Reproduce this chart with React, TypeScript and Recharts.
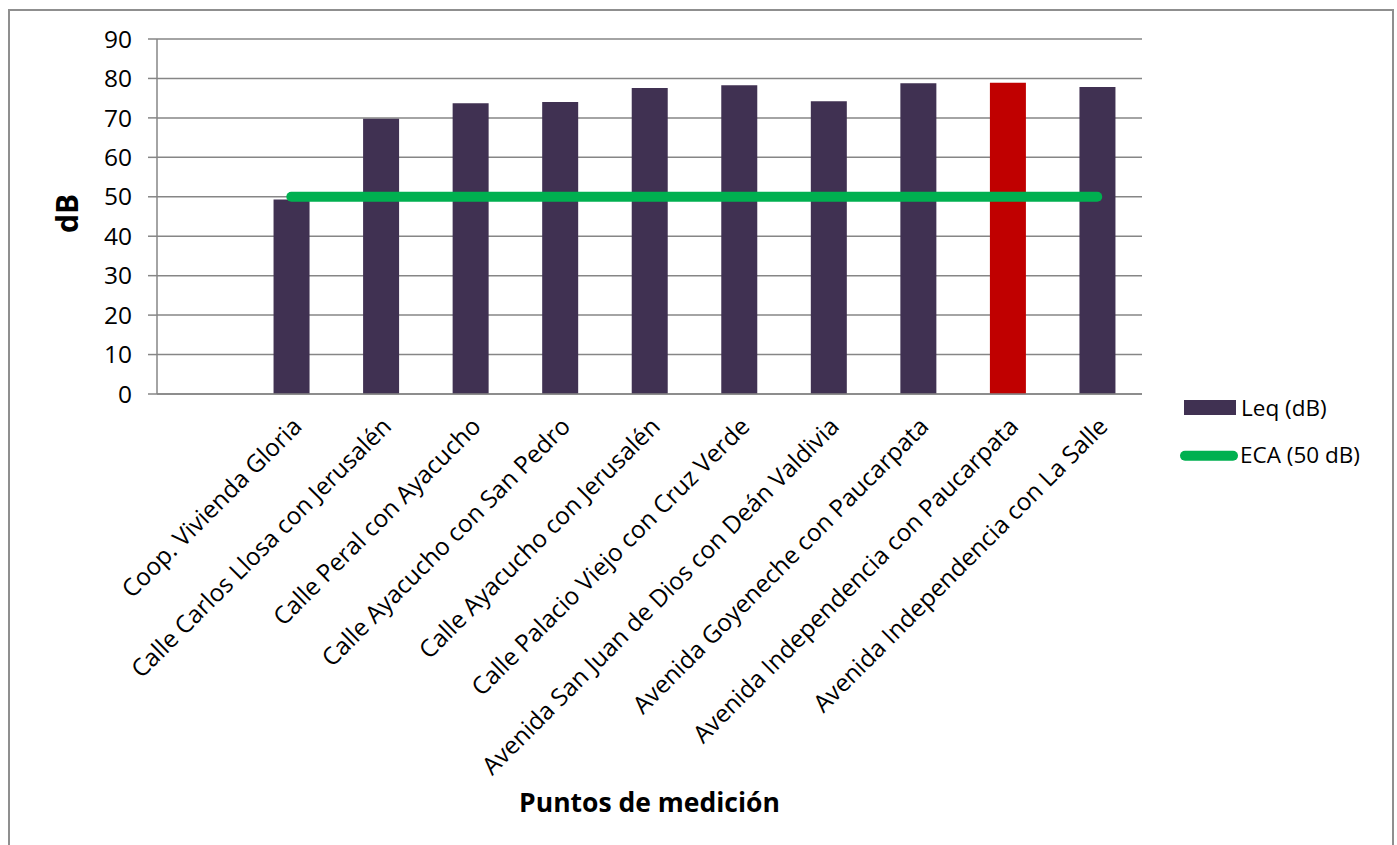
import React from "react";
import {
  ComposedChart,
  Bar,
  Line,
  XAxis,
  YAxis,
  CartesianGrid,
  Legend,
  Label,
  Cell,
} from "recharts";

// Measurement points (the first slot is left empty on purpose)
const puntos: string[] = [
  "",
  "Coop. Vivienda Gloria",
  "Calle Carlos Llosa con Jerusalén",
  "Calle Peral con Ayacucho",
  "Calle Ayacucho con San Pedro",
  "Calle Ayacucho con Jerusalén",
  "Calle Palacio Viejo con Cruz Verde",
  "Avenida San Juan de Dios con Deán Valdivia",
  "Avenida Goyeneche con Paucarpata",
  "Avenida Independencia con Paucarpata",
  "Avenida Independencia con La Salle",
];

// Equivalent continuous sound level per point, dB
const leq: (number | null)[] = [
  null, 49.3, 69.8, 73.7, 74.0, 77.6, 78.3, 74.2, 78.8, 78.9, 77.8,
];

// Environmental quality standard (ECA) reference level
const eca: (number | null)[] = [null, 50, 50, 50, 50, 50, 50, 50, 50, 50, 50];

const yTicks: number[] = [0, 10, 20, 30, 40, 50, 60, 70, 80, 90];

// Point that exceeds the most, drawn in red
const puntoCritico = "Avenida Independencia con Paucarpata";

const data = puntos.map((name, i) => ({ name, leq: leq[i], eca: eca[i] }));

const FONT = '"Open Sans", sans-serif';
const GRID = "#868686";
const BAR = "#403152";
const BAR_ALERT = "#C00000";
const ECA_GREEN = "#00B050";

const XTick = (props: any) => {
  const { x, y, payload } = props;
  if (!payload || !payload.value) return null;
  return (
    <g transform={`translate(${x + 12},${y + 34})`}>
      <text
        textAnchor="end"
        transform="rotate(-45)"
        fontSize={24.3}
        fontFamily={FONT}
        fill="#000"
      >
        {payload.value}
      </text>
    </g>
  );
};

const YTitle = (props: any) => {
  const vb = props.viewBox || { x: 0, y: 39, width: 157, height: 355 };
  const cx = vb.x + 78;
  const cy = vb.y + vb.height / 2 - 3;
  return (
    <text
      x={cx}
      y={cy}
      transform={`rotate(-90 ${cx} ${cy})`}
      textAnchor="middle"
      fontSize={30}
      fontWeight="bold"
      fontFamily={FONT}
      fill="#000"
    >
      dB
    </text>
  );
};

const LegendBox = (props: any) => {
  const payload = props.payload || [];
  return (
    <svg width={220} height={90} style={{ overflow: "visible" }}>
      {payload.map((entry: any, i: number) => {
        const isLine = entry.type === "line";
        return (
          <g key={i}>
            {isLine ? (
              <line
                x1={10}
                x2={58}
                y1={65.7}
                y2={65.7}
                stroke={entry.color}
                strokeWidth={10}
                strokeLinecap="round"
              />
            ) : (
              <rect x={9} y={10} width={52} height={15} fill={entry.color} />
            )}
            <text
              x={isLine ? 65 : 66}
              y={isLine ? 73 : 25.5}
              fontSize={22.5}
              fontFamily={FONT}
              fill="#000"
            >
              {entry.value}
            </text>
          </g>
        );
      })}
    </svg>
  );
};

export default function App() {
  return (
    <div
      style={{
        position: "fixed",
        left: 0,
        top: 0,
        width: 1397,
        height: 845,
        overflow: "hidden",
        background: "#fff",
        fontFamily: FONT,
      }}
    >
      <div
        style={{
          position: "absolute",
          left: 8,
          top: 9,
          width: 1386,
          height: 870,
          border: "2px solid #8f8f8f",
          boxSizing: "border-box",
        }}
      />
      <div style={{ position: "absolute", left: 0, top: 0 }}>
        <ComposedChart
          width={1397}
          height={845}
          data={data}
          margin={{ top: 39, right: 255, bottom: 27, left: 0 }}
          barCategoryGap="60%"
        >
          <CartesianGrid
            vertical={false}
            stroke={GRID}
            strokeWidth={1.5}
          />
          <XAxis
            dataKey="name"
            interval={0}
            height={424}
            tickLine={false}
            tickSize={0}
            tickMargin={0}
            axisLine={{ stroke: GRID, strokeWidth: 1.5 }}
            tick={<XTick />}
          >
            <Label
              value="Puntos de medición"
              position="insideBottom"
              offset={6}
              fontSize={26.5}
              fontWeight="bold"
              fontFamily={FONT}
              fill="#000"
            />
          </XAxis>
          <YAxis
            width={157}
            domain={[0, 90]}
            ticks={yTicks}
            interval={0}
            tickSize={9}
            tickMargin={16}
            tickLine={{ stroke: GRID, strokeWidth: 1.5 }}
            axisLine={{ stroke: GRID, strokeWidth: 1.5 }}
            tick={{ fontSize: 24.5, fill: "#000", fontFamily: FONT }}
          >
            <Label content={<YTitle />} />
          </YAxis>
          <Bar
            dataKey="leq"
            name="Leq (dB)"
            fill={BAR}
            barSize={36}
            isAnimationActive={false}
            legendType="rect"
          >
            {data.map((d, i) => (
              <Cell key={i} fill={d.name === puntoCritico ? BAR_ALERT : BAR} />
            ))}
          </Bar>
          <Line
            dataKey="eca"
            name="ECA (50 dB)"
            type="linear"
            stroke={ECA_GREEN}
            strokeWidth={10}
            strokeLinecap="round"
            dot={false}
            activeDot={false}
            isAnimationActive={false}
            legendType="line"
          />
          <Legend
            layout="horizontal"
            align="center"
            verticalAlign="middle"
            content={<LegendBox />}
            wrapperStyle={{ left: 1175, top: 390, width: 220, height: 90 }}
          />
        </ComposedChart>
      </div>
    </div>
  );
}
